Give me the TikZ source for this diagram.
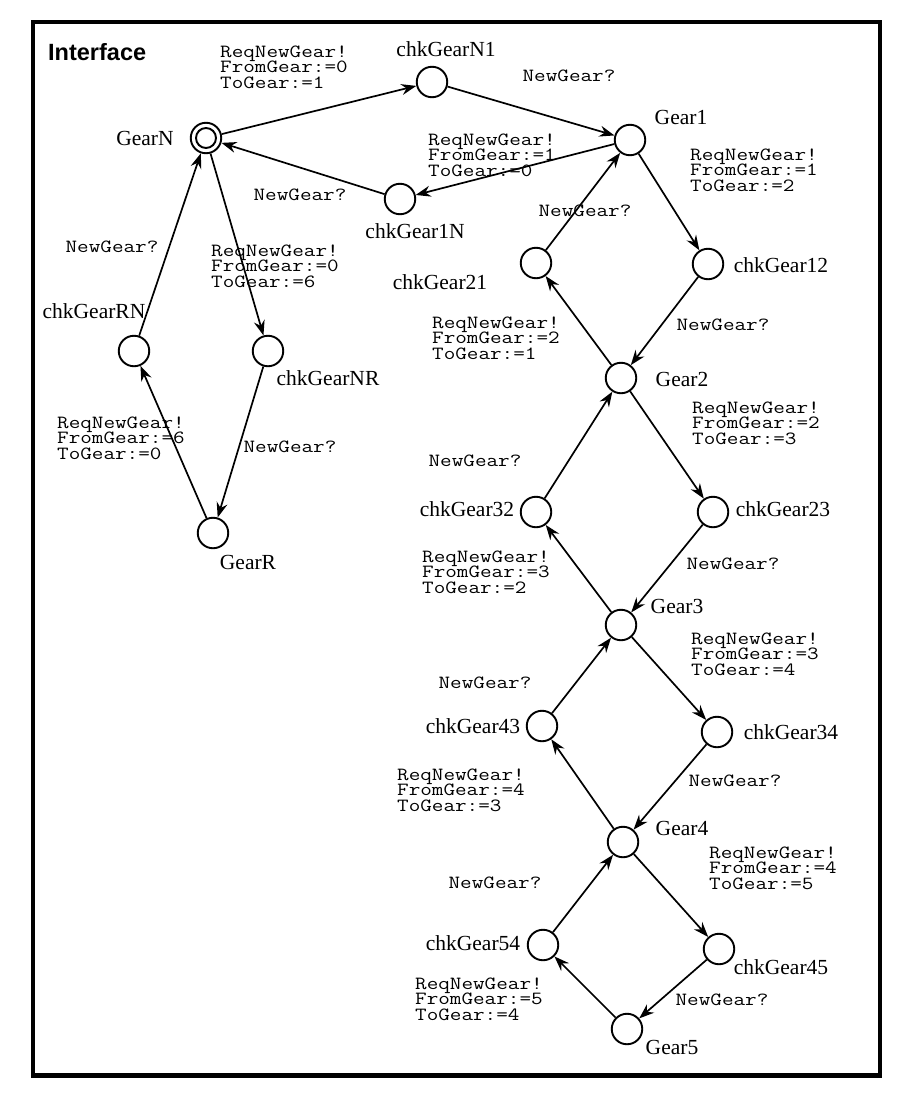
\documentclass[tikz,border=0pt]{standalone}
\usepackage{fontspec}
\usepackage{graphicx}
\setmainfont{Liberation Serif}
\newfontfamily\sansf{Liberation Sans}
\usetikzlibrary{arrows.meta}
\newcommand\mt[1]{\scalebox{1.21}[1]{#1}}
\newcommand\grd[3]{\vtop{\baselineskip=15.5pt\lineskiplimit=-100pt\hbox{\mt{#1}}\hbox{\mt{#2}}\hbox{\mt{#3}}}}
\tikzset{
  state/.style={circle, draw, line width=1.9pt, minimum size=30.5pt, inner sep=0pt},
  initstate/.style={state, path picture={\draw[line width=1.9pt] (path picture bounding box.center) circle (10pt);}},
  edge/.style={line width=1.7pt, -{Stealth[length=15pt,width=11pt,inset=5pt]}},
  lbl/.style={font=\fontsize{21.5}{24}\selectfont, anchor=base, inner sep=0pt},
  grdl/.style={font=\ttfamily\fontsize{18.6}{15.5}\selectfont, anchor=base west, inner sep=0pt},
  sync/.style={font=\ttfamily\fontsize{18.6}{15.5}\selectfont, anchor=base, inner sep=0pt}
}
\begin{document}
\begin{tikzpicture}[x=1pt,y=-1pt]
\useasboundingbox (0,0) rectangle (912,1098);
\draw[line width=4.5pt] (33,22) rectangle (880,1075.5);
\node[font=\sansf\bfseries\fontsize{23.5}{26}\selectfont, anchor=base west, inner sep=0pt] (title) at (48,60) {Interface};

% states
\node[initstate] (GearN) at (206,138) {};
\node[state] (cN1) at (432,82) {};
\node[state] (G1) at (630,140) {};
\node[state] (c1N) at (400,199) {};
\node[state] (c21) at (536,263) {};
\node[state] (c12) at (708,264) {};
\node[state] (cRN) at (134,351) {};
\node[state] (cNR) at (268,351) {};
\node[state] (GR) at (213,533) {};
\node[state] (G2) at (621,378) {};
\node[state] (c32) at (536,512) {};
\node[state] (c23) at (713,512) {};
\node[state] (G3) at (621,625) {};
\node[state] (c43) at (542,726) {};
\node[state] (c34) at (717,732) {};
\node[state] (G4) at (623,842) {};
\node[state] (c54) at (543,945) {};
\node[state] (c45) at (719,949) {};
\node[state] (G5) at (627,1029) {};

% state names
\node[lbl] (tGearN) at (145,145) {GearN};
\node[lbl] (tcN1) at (446,56) {chkGearN1};
\node[lbl] (tG1) at (681,124) {Gear1};
\node[lbl] (tc1N) at (415,238) {chkGear1N};
\node[lbl] (tc21) at (440,289) {chkGear21};
\node[lbl] (tc12) at (781,272) {chkGear12};
\node[lbl] (tcRN) at (94,318) {chkGearRN};
\node[lbl] (tcNR) at (328,385) {chkGearNR};
\node[lbl] (tGR) at (248,569) {GearR};
\node[lbl] (tG2) at (682,386) {Gear2};
\node[lbl] (tc32) at (467,516) {chkGear32};
\node[lbl] (tc23) at (783,516) {chkGear23};
\node[lbl] (tG3) at (677,613) {Gear3};
\node[lbl] (tc43) at (473,733) {chkGear43};
\node[lbl] (tc34) at (791,739) {chkGear34};
\node[lbl] (tG4) at (682,835) {Gear4};
\node[lbl] (tc54) at (473,950) {chkGear54};
\node[lbl] (tc45) at (781,974) {chkGear45};
\node[lbl] (tG5) at (672,1054) {Gear5};

% edges
\draw[edge] (GearN) -- (cN1);
\draw[edge] (cN1) -- (G1);
\draw[edge] (G1) -- (c1N);
\draw[edge] (c1N) -- (GearN);
\draw[edge] (G1) -- (c12);
\draw[edge] (c12) -- (G2);
\draw[edge] (G2) -- (c21);
\draw[edge] (c21) -- (G1);
\draw[edge] (G2) -- (c23);
\draw[edge] (c23) -- (G3);
\draw[edge] (G3) -- (c32);
\draw[edge] (c32) -- (G2);
\draw[edge] (G3) -- (c34);
\draw[edge] (c34) -- (G4);
\draw[edge] (G4) -- (c43);
\draw[edge] (c43) -- (G3);
\draw[edge] (G4) -- (c45);
\draw[edge] (c45) -- (G5);
\draw[edge] (G5) -- (c54);
\draw[edge] (c54) -- (G4);
\draw[edge] (GearN) -- (cNR);
\draw[edge] (cNR) -- (GR);
\draw[edge] (GR) -- (cRN);
\draw[edge] (cRN) -- (GearN);

% guard/assignment labels
\node[grdl] (l1) at (220,57) {\grd{ReqNewGear!}{FromGear:=0}{ToGear:=1}};
\node[grdl] (l3) at (428,145) {\grd{ReqNewGear!}{FromGear:=1}{ToGear:=0}};
\node[grdl] (l5) at (690,160) {\grd{ReqNewGear!}{FromGear:=1}{ToGear:=2}};
\node[grdl] (l7) at (432,328) {\grd{ReqNewGear!}{FromGear:=2}{ToGear:=1}};
\node[grdl] (l9) at (692,413) {\grd{ReqNewGear!}{FromGear:=2}{ToGear:=3}};
\node[grdl] (l11) at (422,562) {\grd{ReqNewGear!}{FromGear:=3}{ToGear:=2}};
\node[grdl] (l13) at (691,644) {\grd{ReqNewGear!}{FromGear:=3}{ToGear:=4}};
\node[grdl] (l15) at (397,780) {\grd{ReqNewGear!}{FromGear:=4}{ToGear:=3}};
\node[grdl] (l17) at (709,858) {\grd{ReqNewGear!}{FromGear:=4}{ToGear:=5}};
\node[grdl] (l19) at (415,989) {\grd{ReqNewGear!}{FromGear:=5}{ToGear:=4}};
\node[grdl] (l21) at (211,256) {\grd{ReqNewGear!}{FromGear:=0}{ToGear:=6}};
\node[grdl] (l23) at (57,428) {\grd{ReqNewGear!}{FromGear:=6}{ToGear:=0}};

% sync labels
\node[sync] (n2) at (569,81) {\mt{NewGear?}};
\node[sync] (n4) at (300,200) {\mt{NewGear?}};
\node[sync] (n6) at (723,330) {\mt{NewGear?}};
\node[sync] (n8) at (585,216) {\mt{NewGear?}};
\node[sync] (n10) at (733,569) {\mt{NewGear?}};
\node[sync] (n12) at (475,466) {\mt{NewGear?}};
\node[sync] (n14) at (735,786) {\mt{NewGear?}};
\node[sync] (n16) at (485,688) {\mt{NewGear?}};
\node[sync] (n18) at (722,1005) {\mt{NewGear?}};
\node[sync] (n20) at (495,888) {\mt{NewGear?}};
\node[sync] (n22) at (290,452) {\mt{NewGear?}};
\node[sync] (n24) at (112,252) {\mt{NewGear?}};
\end{tikzpicture}
\end{document}
